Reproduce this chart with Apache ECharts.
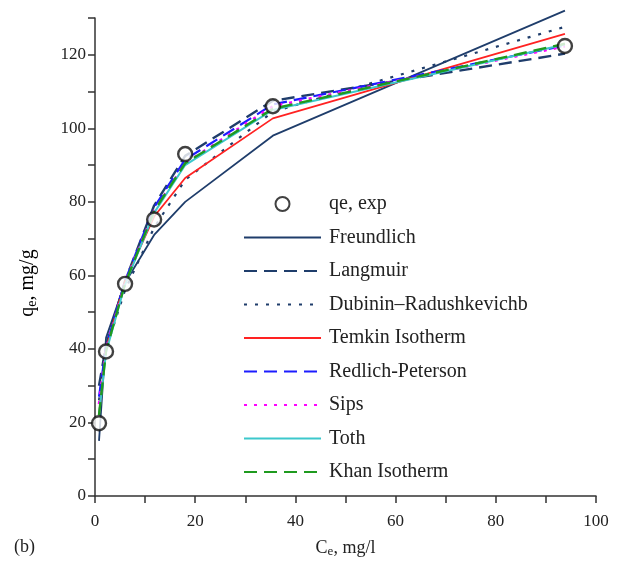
<!DOCTYPE html>
<html>
<head>
<meta charset="utf-8">
<script src="https://cdn.jsdelivr.net/npm/echarts@6/dist/echarts.min.js"></script>
<style>
  html, body { margin: 0; padding: 0; background: #fff; }
  #chart { width: 625px; height: 564px; }
</style>
</head>
<body>
<div id="chart"></div>
<script>
// equilibrium concentration, mg/l
const ce = [0.8, 2.2, 6, 11.8, 18, 35.5, 93.8];
// experimental uptake
const qeExp = [19.8, 39.3, 57.7, 75.2, 93, 106, 122.4];
// model fits
const freundlich = [15, 43, 58, 71, 80, 98, 132];
const langmuir = [30, 41, 58.5, 79, 92.5, 107.5, 120.3];
const dubinin = [26, 40, 56, 73, 86, 104.5, 127.6];
const temkin = [22, 40, 58.5, 76, 86.5, 102.7, 125.7];
const redlich = [27, 40.5, 58.5, 78.5, 91.5, 106.5, 122.5];
const sips = [25, 40, 58, 77.5, 90.5, 106, 122.3];
const toth = [22, 39, 57.5, 77, 90, 105, 122.8];
const khan = [22, 39.5, 57.8, 77.5, 90.5, 105.3, 123];

const FONT = '"Liberation Serif", "DejaVu Serif", serif';
const AXIS_COLOR = "#333";

const pairs = (ys) => ce.map((x, i) => [x, ys[i]]);

// line style per model: name, values, colour, dash pattern, width
const models = [
  ["Freundlich", freundlich, "#1f3d6b", "solid", 1.8],
  ["Langmuir", langmuir, "#1f3d6b", [13, 7], 2.4],
  ["Dubinin\u2013Radushkevichb", dubinin, "#1f3d6b", [3, 8], 2.2],
  ["Temkin Isotherm", temkin, "#ff2222", "solid", 1.8],
  ["Redlich-Peterson", redlich, "#1c1cff", [13, 7], 2.2],
  ["Sips", sips, "#ff00ff", [3, 7], 2.6],
  ["Toth", toth, "#3cc8cc", "solid", 2],
  ["Khan Isotherm", khan, "#1f9a1f", [13, 7], 2.4],
];

const chart = echarts.init(document.getElementById("chart"), null, { renderer: "canvas" });

const lineSeries = models.map(([name, ys, color, type, width]) => ({
  name,
  type: "line",
  data: pairs(ys),
  symbol: "none",
  clip: false,
  color,
  lineStyle: { color, type, width },
  animation: false,
}));

// legend: hide the marker dot that line series add to their icon
const legendItems = [
  { name: "qe, exp" },
  ...models.map((m) => ({ name: m[0], itemStyle: { opacity: 0 } })),
];

const subRich = (size) => ({
  a: { fontFamily: FONT, fontSize: size, color: "#222" },
  s: { fontFamily: FONT, fontSize: Math.round(size * 0.7), color: "#222", padding: [Math.round(size * 0.4), 0, 0, 0] },
});

chart.setOption({
  backgroundColor: "#fff",
  textStyle: { fontFamily: FONT },
  animation: false,
  grid: { left: 95, right: 29, top: 18, bottom: 68 },
  legend: {
    orient: "vertical",
    left: 238,
    top: 189,
    itemWidth: 77,
    itemHeight: 14,
    itemGap: 13.5,
    data: legendItems,
    textStyle: { fontFamily: FONT, fontSize: 20, color: "#222", padding: [0, 0, 0, 3] },
  },
  xAxis: {
    type: "value",
    min: 0,
    max: 100,
    interval: 20,
    name: "{a|C}{s|e}{a|, mg/l}",
    nameLocation: "middle",
    nameGap: 42,
    nameTextStyle: { rich: subRich(18) },
    axisLine: { onZero: false, lineStyle: { color: AXIS_COLOR, width: 1.5 } },
    axisTick: { length: 7, lineStyle: { color: AXIS_COLOR, width: 1.5 } },
    minorTick: { show: true, splitNumber: 2, length: 7, lineStyle: { color: AXIS_COLOR, width: 1.5 } },
    axisLabel: { fontFamily: FONT, fontSize: 17, color: "#222", margin: 17 },
    splitLine: { show: false },
  },
  yAxis: {
    type: "value",
    min: 0,
    max: 130,
    interval: 20,
    axisLine: { show: true, onZero: false, lineStyle: { color: AXIS_COLOR, width: 1.5 } },
    axisTick: { show: true, length: 7, lineStyle: { color: AXIS_COLOR, width: 1.5 } },
    minorTick: { show: true, splitNumber: 2, length: 7, lineStyle: { color: AXIS_COLOR, width: 1.5 } },
    axisLabel: { fontFamily: FONT, fontSize: 17, color: "#222", margin: 9, showMaxLabel: false },
    splitLine: { show: false },
  },
  graphic: [
    {
      type: "text",
      left: 14,
      top: 538,
      style: { text: "(b)", font: "18px " + FONT, fill: "#222" },
    },
    {
      // y axis title, rotated, sits a bit below the plot centre in the original
      type: "text",
      x: 28,
      y: 283,
      rotation: Math.PI / 2,
      style: {
        text: "{a|q}{s|e}{a|, mg/g}",
        rich: subRich(20),
        align: "center",
        verticalAlign: "middle",
      },
    },
  ],
  series: [
    ...lineSeries,
    {
      name: "qe, exp",
      type: "scatter",
      data: pairs(qeExp),
      symbol: "circle",
      symbolSize: 14,
      z: 5,
      itemStyle: { color: "#fff", borderColor: "#111", borderWidth: 2.4 },
    },
  ],
});
</script>
</body>
</html>
